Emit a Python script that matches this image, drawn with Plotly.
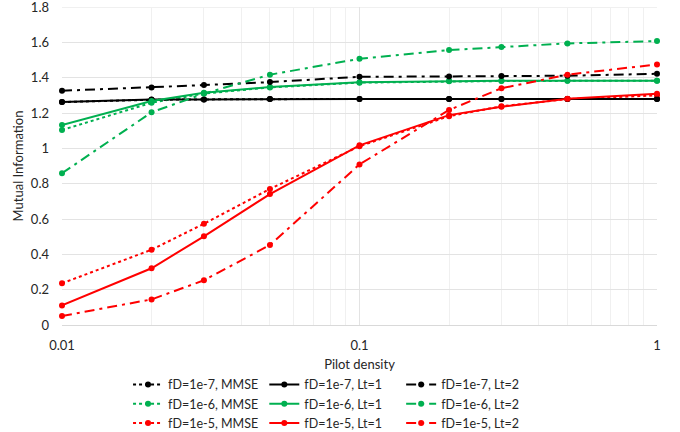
import plotly.graph_objects as go

pilot_density = [0.01, 0.02, 0.03, 0.05, 0.1, 0.2, 0.3, 0.5, 1.0]

mmse_1e7 = [1.262, 1.275, 1.277, 1.279, 1.280, 1.280, 1.280, 1.280, 1.280]
lt1_1e7 = [1.262, 1.277, 1.277, 1.279, 1.280, 1.280, 1.280, 1.280, 1.280]
lt2_1e7 = [1.326, 1.345, 1.358, 1.375, 1.405, 1.407, 1.409, 1.411, 1.422]

mmse_1e6 = [1.104, 1.258, 1.310, 1.345, 1.372, 1.380, 1.381, 1.382, 1.383]
lt1_1e6 = [1.132, 1.268, 1.315, 1.347, 1.374, 1.381, 1.382, 1.383, 1.383]
lt2_1e6 = [0.859, 1.204, 1.310, 1.417, 1.507, 1.556, 1.573, 1.594, 1.607]

mmse_1e5 = [0.236, 0.426, 0.573, 0.770, 1.012, 1.182, 1.238, 1.279, 1.300]
lt1_1e5 = [0.111, 0.321, 0.502, 0.741, 1.017, 1.188, 1.235, 1.281, 1.309]
lt2_1e5 = [0.051, 0.145, 0.253, 0.453, 0.909, 1.217, 1.340, 1.417, 1.475]

y_ticks = [0, 0.2, 0.4, 0.6, 0.8, 1.0, 1.2, 1.4, 1.6, 1.8]
y_labels = ["0", "0.2", "0.4", "0.6", "0.8", "1", "1.2", "1.4", "1.6", "1.8"]
x_ticks = [0.01, 0.1, 1]
x_labels = ["0.01", "0.1", "1"]
x_minor = [0.02, 0.03, 0.04, 0.05, 0.06, 0.07, 0.08, 0.09,
           0.2, 0.3, 0.4, 0.5, 0.6, 0.7, 0.8, 0.9]

BLACK = "#000000"
GREEN = "#00B050"
RED = "#FF0000"
DASHDOT = "10px,5px,3px,5px"

series = [
    ("fD=1e-7, MMSE", mmse_1e7, BLACK, "dot", "legend"),
    ("fD=1e-6, MMSE", mmse_1e6, GREEN, "dot", "legend"),
    ("fD=1e-5, MMSE", mmse_1e5, RED, "dot", "legend"),
    ("fD=1e-7, Lt=1", lt1_1e7, BLACK, "solid", "legend2"),
    ("fD=1e-6, Lt=1", lt1_1e6, GREEN, "solid", "legend2"),
    ("fD=1e-5, Lt=1", lt1_1e5, RED, "solid", "legend2"),
    ("fD=1e-7, Lt=2", lt2_1e7, BLACK, DASHDOT, "legend3"),
    ("fD=1e-6, Lt=2", lt2_1e6, GREEN, DASHDOT, "legend3"),
    ("fD=1e-5, Lt=2", lt2_1e5, RED, DASHDOT, "legend3"),
]

fig = go.Figure()
for name, vals, color, dash, lg in series:
    fig.add_trace(go.Scatter(
        x=pilot_density, y=vals, name=name, mode="lines+markers",
        line=dict(color=color, width=2, dash=dash),
        marker=dict(color=color, size=6),
        legend=lg, cliponaxis=False,
    ))

FONT = "Lato, 'Open Sans', sans-serif"
TXT = "#262626"

leg_common = dict(
    orientation="v", xanchor="left", yanchor="top", y=-0.1415,
    bgcolor="rgba(0,0,0,0)", borderwidth=0, tracegroupgap=0,
    font=dict(family=FONT, size=12.5, color=TXT), itemwidth=30,
)

fig.update_layout(
    width=680, height=432,
    margin=dict(l=62, r=23, t=7, b=107, autoexpand=False),
    paper_bgcolor="white", plot_bgcolor="white",
    font=dict(family=FONT, size=13, color=TXT),
    legend=dict(x=0.111, **leg_common),
    legend2=dict(x=0.340, **leg_common),
    legend3=dict(x=0.57, **leg_common),
    xaxis=dict(
        type="log", range=[-2, 0],
        tickvals=x_ticks, ticktext=x_labels,
        showgrid=True, gridcolor="#E3E3E3", gridwidth=1,
        minor=dict(tickvals=x_minor, showgrid=True, gridcolor="#F0F0F0", gridwidth=1),
        showline=True, linecolor="#D9D9D9", linewidth=1, mirror=False,
        zeroline=False, ticks="", ticklabelstandoff=8,
        title=dict(text="Pilot density", font=dict(size=13, color=TXT), standoff=8),
    ),
    yaxis=dict(
        range=[0, 1.8001], tickvals=y_ticks, ticktext=y_labels,
        showgrid=True, gridcolor="#E3E3E3", gridwidth=1,
        showline=False, zeroline=False, ticks="", ticklabelstandoff=12,
        ticklabeloverflow="allow",
        title=dict(text="Mutual Information", font=dict(size=13, color=TXT), standoff=4),
    ),
    shapes=[dict(type="line", xref="paper", yref="y", x0=0, x1=1, y0=1.8, y1=1.8,
                 line=dict(color="#E3E3E3", width=1), layer="below")],
)

fig.write_html("out.html")
